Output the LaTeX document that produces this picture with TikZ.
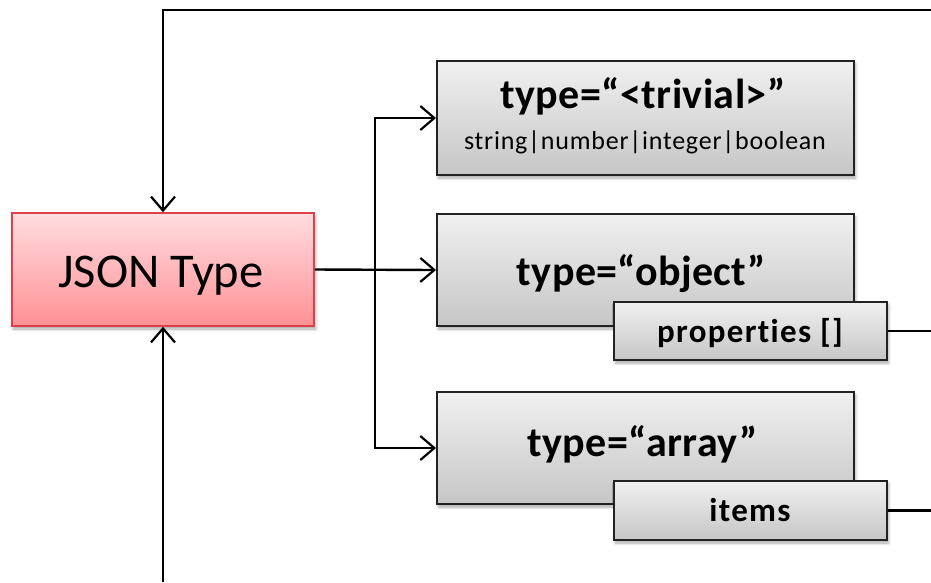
\documentclass[tikz,border=0pt]{standalone}
\usepackage{fontspec}
\setmainfont{Carlito}[Ligatures=CommonOff]
\newfontfamily\widefont{Carlito}[Ligatures=CommonOff,LetterSpace=4]
\newfontfamily\subfont{Carlito}[Ligatures=CommonOff,LetterSpace=3]
\newfontfamily\titlefont{Carlito}[Ligatures=CommonOff,LetterSpace=1]
\usetikzlibrary{arrows.meta,shadows.blur,positioning}

\definecolor{pinktop}{HTML}{FFDDE0}
\definecolor{pinkbot}{HTML}{FF9195}
\definecolor{pinkedge}{HTML}{E0404C}
\definecolor{greytop}{HTML}{F0F0F0}
\definecolor{greybot}{HTML}{C6C6C6}
\definecolor{greyedge}{HTML}{222222}

\tikzset{
  boxshadow/.style={blur shadow={shadow xshift=1.5pt,shadow yshift=-3pt,
      shadow blur steps=6,shadow blur radius=3pt,shadow opacity=35}},
  typebox/.style={draw=greyedge,line width=2pt,top color=greytop,
      bottom color=greybot,inner sep=0pt,boxshadow},
  rootbox/.style={draw=pinkedge,line width=1.5pt,top color=pinktop,
      bottom color=pinkbot,inner sep=0pt,boxshadow},
  link/.style={line width=2.4pt,black},
  arr/.style={link,-{Straight Barb[length=14pt,width=24pt,line width=2.2pt]}},
  title/.style={font=\titlefont\bfseries\fontsize{42}{44}\selectfont,anchor=base,inner sep=0pt},
  sub/.style={font=\subfont\fontsize{26}{28}\selectfont,anchor=base,inner sep=0pt},
  key/.style={font=\widefont\bfseries\fontsize{33}{35}\selectfont,anchor=base,inner sep=0pt}
}

\begin{document}
\begin{tikzpicture}[x=1pt,y=-1pt]
\useasboundingbox (0,0) rectangle (931,582);

% root node
\node[rootbox,minimum width=302pt,minimum height=113pt] (json) at (163,269.5) {};
\node[anchor=base,inner sep=0pt,font=\fontsize{48.5}{50}\selectfont] (jsonlabel) at (161,287) {JSON Type};

% the three kinds of type
\node[typebox,minimum width=417pt,minimum height=114pt] (trivial) at (645.5,118) {};
\node[title] (trivialtitle) at (643,108) {type=“<trivial>”};
\node[sub] (trivialsub) at (645,149) {string|number|integer|boolean};

\node[typebox,minimum width=417pt,minimum height=112pt] (object) at (645.5,270) {};
\node[title] (objecttitle) at (641.5,285) {type=“object”};

\node[typebox,minimum width=417pt,minimum height=112pt] (array) at (645.5,448) {};
\node[title] (arraytitle) at (642.5,456) {type=“array”};

% member tabs
\node[typebox,minimum width=273pt,minimum height=58pt] (props) at (750.5,331) {};
\node[key] (propslabel) at (750,342) {properties []};

\node[typebox,minimum width=273pt,minimum height=59pt] (items) at (750.5,510.5) {};
\node[key] (itemslabel) at (750,521) {items};

% loose ends of the recursion loops
\coordinate (topright) at (931,10);
\coordinate (propsout) at (931,331);
\coordinate (itemsout) at (931,510.5);
\coordinate (bottomin) at (163,582);
\coordinate (trunk) at (375,270);

% connectors
\draw[arr] (topright) -| (json.north);
\draw[arr] (bottomin) -- (json.south);
\draw[arr] (json.east) -- (object.west);
\draw[arr] (trunk) |- (trivial.west);
\draw[arr] (trunk) |- (array.west);
\draw[link] (props.east) -- (propsout);
\draw[link] (items.east) -- (itemsout);
\end{tikzpicture}
\end{document}
